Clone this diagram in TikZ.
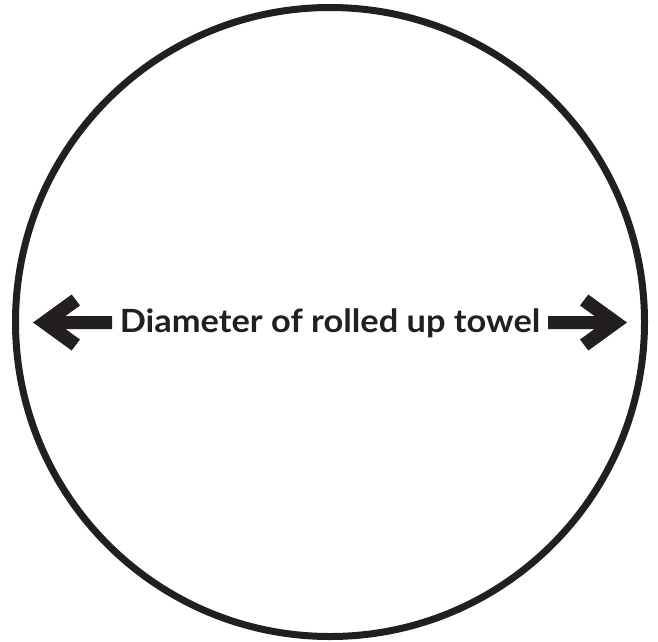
\documentclass[tikz,border=0pt]{standalone}
\usepackage{fontspec}
\usepackage{graphicx}
\setmainfont{Lato}
\definecolor{ink}{RGB}{35,31,32}
\begin{document}
\begin{tikzpicture}[x=1pt,y=-1pt,
  rim/.style={draw=ink,line width=7pt},
  fatarrow/.style={fill=ink,draw=none},
  caption/.style={font=\fontsize{32}{36}\selectfont\bfseries,text=ink,inner sep=0pt}]
\useasboundingbox (0,0) rectangle (658,641);
\node[circle,rim,minimum size=629pt,inner sep=0pt] (disc) at (330,322) {};
\node[caption] (label) at (330,323) {\scalebox{1.075}[1]{Diameter of rolled up towel}};
% left arrow
\fill[fatarrow] (33,322.5) -- (71.7,294.5) -- (80,305.5) -- (65.5,316) -- (112,316)
  -- (112,329) -- (65.5,329) -- (80,339.5) -- (71.7,350.5) -- cycle;
% right arrow
\fill[fatarrow] (627,322.5) -- (588.3,294.5) -- (580,305.5) -- (594.5,316) -- (548,316)
  -- (548,329) -- (594.5,329) -- (580,339.5) -- (588.3,350.5) -- cycle;
\end{tikzpicture}
\end{document}
